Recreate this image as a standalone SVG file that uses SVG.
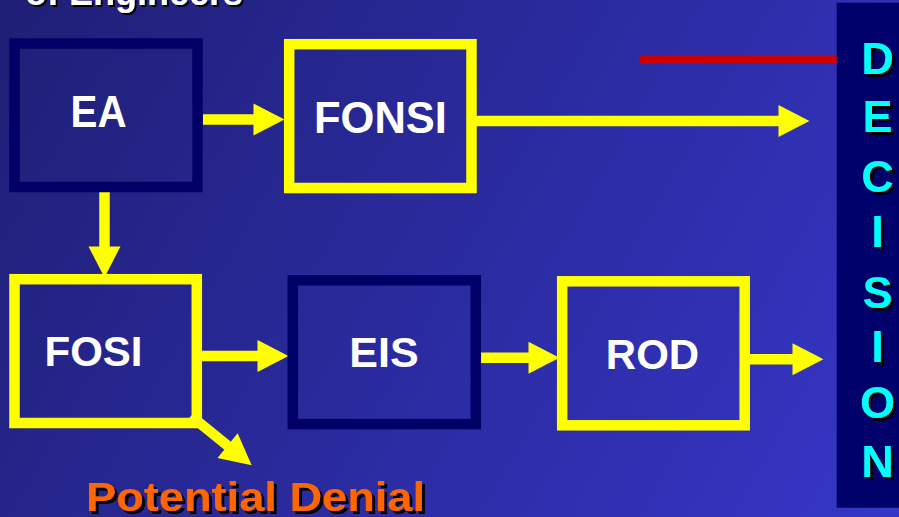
<svg xmlns="http://www.w3.org/2000/svg" width="899" height="517" viewBox="0 0 899 517">
<defs>
<linearGradient id="bg" x1="0" y1="0" x2="899" y2="517" gradientUnits="userSpaceOnUse">
<stop offset="0" stop-color="#1f1f76"/>
<stop offset="1" stop-color="#3636c8"/>
</linearGradient>
<filter id="shadow3" x="-10%" y="-10%" width="130%" height="130%">
<feDropShadow dx="3" dy="3" stdDeviation="0" flood-color="#000000" flood-opacity="1"/>
</filter>
<filter id="shadow2" x="-10%" y="-10%" width="130%" height="130%">
<feDropShadow dx="2" dy="2" stdDeviation="0" flood-color="#000000" flood-opacity="1"/>
</filter>
<marker id="ah" markerUnits="userSpaceOnUse" markerWidth="32" markerHeight="32" viewBox="0 0 30 31" refX="0.5" refY="15.5" orient="auto" overflow="visible">
<path d="M0,0 L30,15.5 L0,31 Z" fill="#ffff00"/>
</marker>
<style>
.dark{fill:none;stroke:#000066;stroke-width:10.5}
.yel{fill:none;stroke:#ffff00;stroke-width:10.5}
.lbl{font-family:"Liberation Sans",Arial,sans-serif;font-weight:bold;fill:#ffffff;text-anchor:middle}
.conn{stroke:#ffff00;stroke-width:10.5;fill:none;marker-end:url(#ah)}
.dec{font-family:"Liberation Sans",Arial,sans-serif;font-weight:bold;font-size:45px;text-anchor:middle;fill:#00ffff}
</style>
</defs>
<rect x="0" y="0" width="899" height="517" fill="url(#bg)"/>

<g id="title" filter="url(#shadow2)">
<text x="25" y="5" font-family="Liberation Sans, Arial, sans-serif" font-weight="bold" font-size="36" fill="#ffffff">of Engineers</text>
</g>

<g id="connectors">
<line x1="203" y1="119.5" x2="254" y2="119.5" class="conn"/>
<line x1="476" y1="121" x2="779" y2="121" class="conn"/>
<line x1="104.5" y1="192" x2="104.5" y2="247" class="conn"/>
<line x1="202" y1="356" x2="258" y2="356" class="conn"/>
<line x1="481" y1="357.7" x2="529" y2="357.7" class="conn"/>
<line x1="750" y1="359.3" x2="793" y2="359.3" class="conn"/>
<line x1="191" y1="416" x2="228" y2="446" class="conn"/>
<line x1="639" y1="59.5" x2="840" y2="59.5" stroke="#cc0000" stroke-width="7.5"/>
</g>

<g id="EA">
<rect x="14.5" y="43.5" width="183" height="143.5" class="dark"/>
<text x="98.5" y="126.7" font-size="44" class="lbl" textLength="56" lengthAdjust="spacingAndGlyphs">EA</text>
</g>

<g id="FONSI">
<rect x="289.2" y="44.2" width="182.3" height="143.8" class="yel"/>
<text x="380.5" y="133.3" font-size="43.5" class="lbl">FONSI</text>
</g>

<g id="FOSI">
<rect x="14.5" y="279.2" width="182.3" height="143.8" class="yel"/>
<text x="93.5" y="365.7" font-size="42" class="lbl">FOSI</text>
</g>

<g id="EIS">
<rect x="292.8" y="280.3" width="183" height="143.8" class="dark"/>
<text x="384" y="367.3" font-size="43" class="lbl">EIS</text>
</g>

<g id="ROD">
<rect x="562.2" y="281.3" width="182.5" height="144" class="yel"/>
<text x="652.5" y="369.3" font-size="42" class="lbl">ROD</text>
</g>

<g id="DECISION">
<rect x="836.7" y="2.7" width="70" height="505" fill="#00006a"/>
<g class="dec" filter="url(#shadow3)">
<text x="877.5" y="74">D</text>
<text x="877.5" y="131.7">E</text>
<text x="877.5" y="192.3">C</text>
<text x="877.5" y="247">I</text>
<text x="877.5" y="308">S</text>
<text x="877.5" y="361.7">I</text>
<text x="877.5" y="418">O</text>
<text x="877.5" y="476.7">N</text>
</g>
</g>

<g id="potential-denial" filter="url(#shadow3)">
<text x="86" y="510.7" font-family="Liberation Sans, Arial, sans-serif" font-weight="bold" font-size="40" fill="#ff6600" textLength="339" lengthAdjust="spacingAndGlyphs">Potential Denial</text>
</g>
</svg>
